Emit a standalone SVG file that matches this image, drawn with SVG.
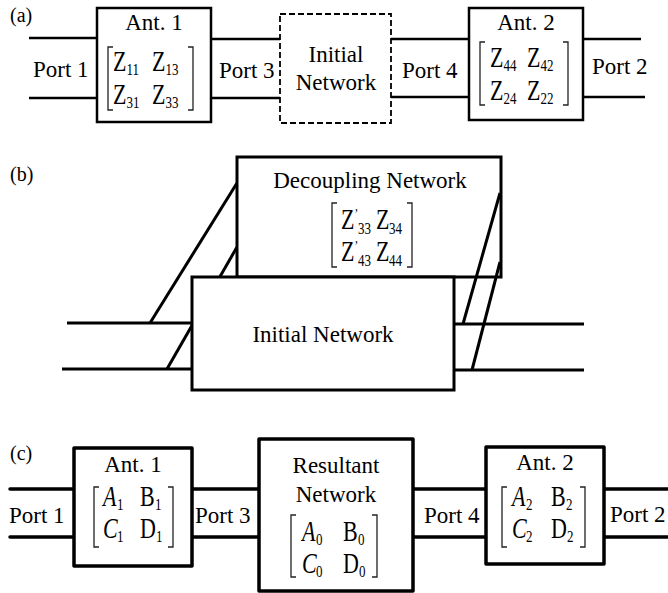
<svg xmlns="http://www.w3.org/2000/svg" width="668" height="593" viewBox="0 0 668 593">
<style>
text{font-family:'Liberation Serif','Times New Roman',serif;fill:#000}
.lbl{font-size:23px}
.c{text-anchor:middle}
.pl{font-size:20px}
.m{font-size:22px}
.s{font-size:13px}
.pr{font-size:11px}
.it{font-style:italic}
.box{fill:#fff;stroke:#000;stroke-width:2.5}
.boxc{fill:#fff;stroke:#000;stroke-width:3.5;stroke-linejoin:round}
.dash{fill:#fff;stroke:#000;stroke-width:1.8;stroke-dasharray:6 3}
.wa{stroke:#000;stroke-width:2.6;fill:none}
.wb{stroke:#000;stroke-width:3;fill:none}
.wc{stroke:#000;stroke-width:3.5;fill:none;stroke-linecap:round}
.br{stroke:#222;stroke-width:1.3;fill:none}
</style>

<g id="panel-labels">
<text class="pl" x="10" y="22">(a)</text>
<text class="pl" x="10" y="181">(b)</text>
<text class="pl" x="10" y="460">(c)</text>
</g>

<g id="connectors">
  <line class="wa" x1="29" y1="38" x2="97" y2="38"/>
  <line class="wa" x1="29" y1="98" x2="97" y2="98"/>
  <line class="wa" x1="211" y1="39" x2="280" y2="39"/>
  <line class="wa" x1="211" y1="98" x2="280" y2="98"/>
  <line class="wa" x1="391" y1="39" x2="469" y2="39"/>
  <line class="wa" x1="391" y1="97" x2="469" y2="97"/>
  <line class="wa" x1="583" y1="39" x2="641" y2="39"/>
  <line class="wa" x1="583" y1="97" x2="645" y2="97"/>
  <line class="wb" x1="67" y1="323" x2="192" y2="323"/>
  <line class="wb" x1="62" y1="369" x2="192" y2="369"/>
  <line class="wb" x1="150" y1="323" x2="237" y2="183"/>
  <line class="wb" x1="167" y1="369" x2="237" y2="247"/>
  <line class="wc" x1="10" y1="489" x2="74" y2="489"/>
  <line class="wc" x1="10" y1="537" x2="74" y2="537"/>
  <line class="wc" x1="192" y1="489" x2="259" y2="489"/>
  <line class="wc" x1="192" y1="537" x2="259" y2="537"/>
  <line class="wc" x1="413" y1="489" x2="486" y2="489"/>
  <line class="wc" x1="413" y1="537" x2="486" y2="537"/>
  <line class="wc" x1="604" y1="489" x2="668" y2="489"/>
  <line class="wc" x1="604" y1="537" x2="668" y2="537"/>
</g>

<g id="port-labels">
  <text class="lbl" x="33" y="77">Port 1</text>
  <text class="lbl" x="219" y="78">Port 3</text>
  <text class="lbl" x="402" y="78">Port 4</text>
  <text class="lbl" x="592" y="74">Port 2</text>
  <text class="lbl" x="9" y="523">Port 1</text>
  <text class="lbl" x="195" y="523">Port 3</text>
  <text class="lbl" x="424" y="523">Port 4</text>
  <text class="lbl" x="610" y="522">Port 2</text>
</g>

<g id="a-ant1">
  <rect class="box" x="97" y="8" width="114" height="114"/>
  <text class="lbl c" x="154" y="30">Ant. 1</text>
  <path class="br" d="M113,47 H108 V110 H113"/>
  <path class="br" d="M188,47 H193 V110 H188"/>
  <g transform="translate(113,71) scale(1,1.3)">
    <text class="m" x="0" y="0">Z</text><text class="s" x="13.5" y="3">11</text>
    <text class="m" x="39" y="0">Z</text><text class="s" x="52.5" y="3">13</text>
  </g>
  <g transform="translate(113,104) scale(1,1.3)">
    <text class="m" x="0" y="0">Z</text><text class="s" x="13.5" y="3">31</text>
    <text class="m" x="39" y="0">Z</text><text class="s" x="52.5" y="3">33</text>
  </g>
</g>

<g id="a-initial">
  <rect class="dash" x="280" y="14" width="111" height="109"/>
  <text class="lbl c" x="336" y="62">Initial</text>
  <text class="lbl c" x="336" y="90">Network</text>
</g>

<g id="a-ant2">
  <rect class="box" x="469" y="8" width="114" height="112"/>
  <text class="lbl c" x="526" y="30">Ant. 2</text>
  <path class="br" d="M485,42 H480 V105 H485"/>
  <path class="br" d="M563,42 H568 V105 H563"/>
  <g transform="translate(490,67) scale(1,1.3)">
    <text class="m" x="0" y="0">Z</text><text class="s" x="13.5" y="3">44</text>
    <text class="m" x="37" y="0">Z</text><text class="s" x="50.5" y="3">42</text>
  </g>
  <g transform="translate(490,100) scale(1,1.3)">
    <text class="m" x="0" y="0">Z</text><text class="s" x="13.5" y="3">24</text>
    <text class="m" x="37" y="0">Z</text><text class="s" x="50.5" y="3">22</text>
  </g>
</g>

<g id="b-decoupling">
  <rect class="box" x="237" y="157" width="264" height="120" style="stroke-width:3"/>
  <text class="lbl c" x="370" y="188">Decoupling Network</text>
  <path class="br" d="M337,203 H332 V267 H337"/>
  <path class="br" d="M407,203 H412 V267 H407"/>
  <g transform="translate(341,229) scale(1,1.3)">
    <text x="0" y="0"><tspan class="m">Z</tspan><tspan class="pr" dy="-8">’</tspan><tspan class="s" dy="12">33</tspan></text>
    <text class="m" x="35" y="0">Z</text><text class="s" x="48" y="4">34</text>
  </g>
  <g transform="translate(341,261) scale(1,1.3)">
    <text x="0" y="0"><tspan class="m">Z</tspan><tspan class="pr" dy="-8">’</tspan><tspan class="s" dy="12">43</tspan></text>
    <text class="m" x="35" y="0">Z</text><text class="s" x="48" y="4">44</text>
  </g>
</g>

<g id="b-initial">
  <rect class="box" x="192" y="277" width="262" height="113" style="stroke-width:3"/>
  <text class="lbl c" x="323" y="342">Initial Network</text>
</g>

<g id="connectors-b-right">
  <line class="wb" x1="454" y1="324" x2="584" y2="324"/>
  <line class="wb" x1="454" y1="370" x2="584" y2="370"/>
  <line class="wb" x1="463" y1="324" x2="500" y2="193"/>
  <line class="wb" x1="472" y1="370" x2="500" y2="262"/>
</g>

<g id="c-ant1">
  <rect class="boxc" x="74" y="448" width="118" height="118"/>
  <text class="lbl c" x="133" y="472">Ant. 1</text>
  <path class="br" d="M99,487 H94 V547 H99"/>
  <path class="br" d="M168,487 H173 V547 H168"/>
  <g transform="translate(103,506) scale(1,1.3)">
    <text class="m it" x="0" y="0">A</text><text class="s" x="14" y="3">1</text>
    <text class="m" x="37" y="0">B</text><text class="s" x="52" y="3">1</text>
  </g>
  <g transform="translate(103,538) scale(1,1.3)">
    <text class="m it" x="0" y="0">C</text><text class="s" x="14" y="3">1</text>
    <text class="m" x="37" y="0">D</text><text class="s" x="53" y="3">1</text>
  </g>
</g>

<g id="c-resultant">
  <rect class="boxc" x="259" y="439" width="154" height="152"/>
  <text class="lbl c" x="336" y="473">Resultant</text>
  <text class="lbl c" x="336" y="502">Network</text>
  <path class="br" d="M296,515 H291 V577 H296"/>
  <path class="br" d="M372,515 H377 V577 H372"/>
  <g transform="translate(302,541) scale(1,1.3)">
    <text class="m it" x="0" y="0">A</text><text class="s" x="14" y="3">0</text>
    <text class="m" x="41" y="0">B</text><text class="s" x="56" y="3">0</text>
  </g>
  <g transform="translate(302,573) scale(1,1.3)">
    <text class="m it" x="0" y="0">C</text><text class="s" x="14" y="3">0</text>
    <text class="m" x="41" y="0">D</text><text class="s" x="57" y="3">0</text>
  </g>
</g>

<g id="c-ant2">
  <rect class="boxc" x="486" y="447" width="118" height="117"/>
  <text class="lbl c" x="545" y="470">Ant. 2</text>
  <path class="br" d="M507,487 H502 V547 H507"/>
  <path class="br" d="M580,487 H585 V547 H580"/>
  <g transform="translate(512,506) scale(1,1.3)">
    <text class="m it" x="0" y="0">A</text><text class="s" x="14" y="3">2</text>
    <text class="m" x="39" y="0">B</text><text class="s" x="54" y="3">2</text>
  </g>
  <g transform="translate(512,538) scale(1,1.3)">
    <text class="m it" x="0" y="0">C</text><text class="s" x="14" y="3">2</text>
    <text class="m" x="39" y="0">D</text><text class="s" x="55" y="3">2</text>
  </g>
</g>
</svg>
